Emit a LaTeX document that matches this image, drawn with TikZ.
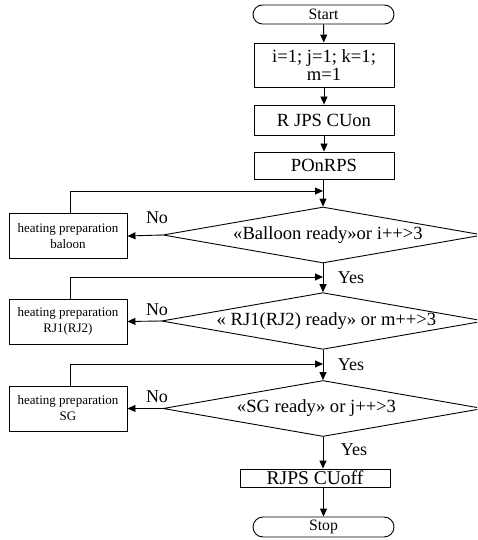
\documentclass[tikz,border=0pt]{standalone}
\usepackage{fontspec}
\setmainfont{Liberation Serif}
\usetikzlibrary{arrows.meta,shapes.geometric}

\begin{document}
\begin{tikzpicture}[x=1pt,y=-1pt,
    base/.style={draw,line width=0.9pt,inner sep=0pt,align=center,
      font=\fontsize{18.6}{18}\selectfont},
    terminal/.style={base,rounded corners=9.5pt,minimum width=141pt,minimum height=19pt,
      font=\fontsize{15.8}{18}\selectfont},
    proc/.style={base,minimum width=140pt},
    prep/.style={base,minimum width=118pt,minimum height=45pt,
      font=\fontsize{13}{16}\selectfont},
    decision/.style={base,diamond,aspect=5.7,minimum width=320pt,minimum height=56pt},
    link/.style={line width=0.9pt,-{Triangle[length=8pt,width=7pt]}},
    lbl/.style={inner sep=0pt,font=\fontsize{18}{20}\selectfont}]
  \clip (0,0) rectangle (477,540);
  \useasboundingbox (0,0) rectangle (477,540);

  % main column
  \node[terminal] (start) at (323.5,14.5) {Start};
  \node[proc,minimum height=44pt] (init) at (324,65) {i=1; j=1; k=1;\\m=1};
  \node[proc,minimum height=30pt] (cuon) at (324,120) {R JPS CUon};
  \node[proc,minimum height=27pt] (ponrps) at (324,165.5) {POnRPS};
  \node[decision] (balloon) at (323,235) {\hspace{10pt}«Balloon ready»or i++>3};
  \node[decision] (rj) at (323,321) {\hspace{7pt}« RJ1(RJ2) ready» or m++>3};
  \node[decision] (sg) at (323,408.5) {«SG ready» or j++>3\hspace{13pt}};
  \node[proc,minimum width=150pt,minimum height=18pt,font=\fontsize{19.5}{20}\selectfont]
    (cuoff) at (315,478) {RJPS CUoff};
  \node[terminal,minimum height=20pt,rounded corners=10pt] (stop) at (323.5,527) {Stop};

  % heating loops
  \node[prep] (hballoon) at (68,236) {heating preparation\\baloon};
  \node[prep] (hrj) at (68,321.5) {heating preparation\\RJ1(RJ2)};
  \node[prep] (hsg) at (68,408.5) {heating preparation\\SG};

  \coordinate (mballoon) at (323,191);
  \coordinate (mrj) at (323,277);
  \coordinate (msg) at (323,364);

  \draw[link] (start) -- (init);
  \draw[link] (init) -- (cuon);
  \draw[link] (cuon) -- (ponrps);
  \draw[link] (ponrps.south -| balloon.north) -- (balloon.north);
  \draw[link] (balloon.south) -- (rj.north);
  \draw[link] (rj.south) -- (sg.north);
  \draw[link] (sg.south) -- (sg.south |- cuoff.north);
  \draw[link] (cuoff.south -| stop.north) -- (stop.north);

  \draw[link] (balloon.west) -- (hballoon.east);
  \draw[link] (rj.west) -- (hrj.east);
  \draw[link] (sg.west) -- (hsg.east);
  \draw[link] ([xshift=2pt]hballoon.north) |- (mballoon);
  \draw[link] ([xshift=2pt]hrj.north) |- (mrj);
  \draw[link] ([xshift=2pt]hsg.north) |- (msg);

  % branch labels
  \node[lbl] (noballoon) at (157,218) {No};
  \node[lbl] (norj) at (157,310) {No};
  \node[lbl] (nosg) at (157,397) {No};
  \node[lbl] (yesballoon) at (351,278) {Yes};
  \node[lbl] (yesrj) at (351,365) {Yes};
  \node[lbl] (yessg) at (354,450) {Yes};
\end{tikzpicture}
\end{document}
